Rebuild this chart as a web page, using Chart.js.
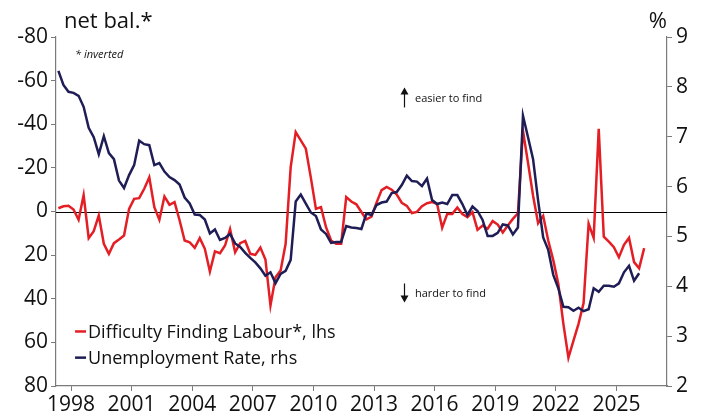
<!DOCTYPE html>
<html><head><meta charset="utf-8">
<script src="https://cdn.jsdelivr.net/npm/chart.js@4.4.0/dist/chart.umd.min.js"></script>
<style>html,body{margin:0;padding:0;background:#fff;}#wrap{width:704px;height:416px;}</style>
</head><body><div id="wrap"><canvas id="c" width="704" height="416"></canvas></div>
<script>
// ---- data (quarterly, first observation 1997 Q2) ----
const firstYear = 1997;
const firstQuarter = 2;
const difficultyFindingLabour = [ // net balance, plotted inverted (lhs)
  -1.5,-2.4,-2.6,-0.9,3.8,-7.5,12.2,9.0,1.8,14.8,19.4,14.5,12.8,11.0,-1.2,-5.8,-6.1,-10.4,-15.7,-2.0,
  3.8,-6.9,-3.1,-4.3,4.0,13.3,14.1,16.7,12.2,17.1,27.5,18.3,19.1,15.6,8.1,18.7,14.5,13.5,19.4,19.9,
  16.5,22.0,43.1,30.1,27.1,14.8,-20.3,-36.4,-32.6,-28.8,-15.4,-1.2,-2.0,7.2,13.3,14.8,14.8,-6.6,-4.6,-3.3,
  0.2,3.6,2.4,-4.0,-9.8,-11.3,-10.0,-7.8,-4.0,-2.6,0.7,0.2,-2.4,-3.8,-4.3,-3.5,7.4,1.1,1.1,-1.8,
  1.2,2.6,0.3,8.4,6.4,7.9,4.4,6.0,9.6,6.4,3.4,0.8,-37.0,-22.3,-7.2,5.4,2.0,13.3,22.3,33.2,
  51.5,67.0,59.2,51.5,42.0,5.6,12.1,-37.9,11.5,13.8,16.4,21.0,15.3,12.1,23.2,26.0,16.8
];
const unemploymentRate = [ // % (rhs)
  8.32,8.04,7.90,7.88,7.82,7.60,7.18,6.99,6.65,7.01,6.67,6.55,6.12,5.97,6.23,6.43,6.92,6.85,6.83,6.43,
  6.47,6.30,6.19,6.13,6.04,5.78,5.66,5.44,5.43,5.34,5.06,5.14,4.93,4.97,5.05,4.86,4.79,4.67,4.57,4.48,
  4.36,4.21,4.28,4.06,4.25,4.31,4.53,5.70,5.84,5.66,5.48,5.41,5.14,5.05,4.87,4.89,4.89,5.21,5.18,5.17,
  5.15,5.46,5.43,5.63,5.68,5.70,5.87,5.89,6.03,6.22,6.11,6.10,6.01,6.16,5.73,5.65,5.68,5.65,5.83,5.83,
  5.65,5.43,5.60,5.51,5.33,5.01,5.01,5.07,5.24,5.22,5.04,5.18,7.42,6.99,6.55,5.72,4.98,4.73,4.23,3.96,
  3.59,3.58,3.51,3.57,3.50,3.54,3.96,3.89,4.01,4.01,3.99,4.06,4.28,4.41,4.11,4.26
];
const yearTicks = [1998,2001,2004,2007,2010,2013,2016,2019,2022,2025];
const lhsTicks = [-80,-60,-40,-20,0,20,40,60,80];
const rhsTicks = [2,3,4,5,6,7,8,9];
const seriesNames = ['Difficulty Finding Labour*, lhs','Unemployment Rate, rhs'];
const seriesColors = ['#e31e24','#1f1d55'];

// quarter -> decimal year (mid-quarter)
function qTime(i){ const q = firstQuarter - 1 + i; return firstYear + Math.floor(q/4) + (q%4)*0.25 + 0.125; }
const redPts = difficultyFindingLabour.map((v,i)=>({x:qTime(i), y:v}));
const bluePts = unemploymentRate.map((v,i)=>({x:qTime(i), y:v}));

const FONT = "'Open Sans', sans-serif";
const AXIS = '#7a7a7a';

const overlay = {
  id:'overlay',
  beforeDatasetsDraw(chart){
    const {ctx, chartArea:a, scales} = chart;
    const y0 = scales.yL.getPixelForValue(0);
    ctx.save();
    ctx.strokeStyle = '#000'; ctx.lineWidth = 1.2;
    ctx.beginPath(); ctx.moveTo(a.left, Math.round(y0)+0.5); ctx.lineTo(a.right, Math.round(y0)+0.5); ctx.stroke();
    ctx.restore();
  },
  afterDraw(chart){
    const {ctx, chartArea:a, scales} = chart;
    const X = scales.x, L = scales.yL;
    ctx.save();
    ctx.fillStyle = '#111';
    ctx.textBaseline = 'alphabetic';
    ctx.font = `22px ${FONT}`;
    ctx.textAlign = 'left';
    ctx.fillText('net bal.*', 64, 28);
    ctx.textAlign = 'right';
    ctx.fillText('%', 667, 28);
    // note
    ctx.textAlign = 'left'; ctx.textBaseline = 'middle';
    ctx.font = `italic 11px ${FONT}`;
    ctx.fillText('* inverted', X.getPixelForValue(1998.2), L.getPixelForValue(-71.6));
    // arrows
    ctx.font = `11px ${FONT}`;
    const ax = Math.round(X.getPixelForValue(2014.49))+0.5;
    function arrow(yFrom, yTo){
      const dir = Math.sign(yTo - yFrom);
      ctx.strokeStyle = '#111'; ctx.lineWidth = 1.2;
      ctx.beginPath(); ctx.moveTo(ax, yFrom); ctx.lineTo(ax, yTo - dir*6); ctx.stroke();
      ctx.beginPath(); ctx.moveTo(ax, yTo); ctx.lineTo(ax-4, yTo - dir*7); ctx.lineTo(ax+4, yTo - dir*7); ctx.closePath(); ctx.fill();
    }
    arrow(L.getPixelForValue(-47.7), L.getPixelForValue(-56.9));
    ctx.fillText('easier to find', ax + 10.5, L.getPixelForValue(-51.8));
    arrow(L.getPixelForValue(33), L.getPixelForValue(41.7));
    ctx.fillText('harder to find', ax + 10.5, L.getPixelForValue(37.6));
    // legend
    ctx.font = `18px ${FONT}`;
    const lx = X.getPixelForValue(1998.2);
    [55, 67].forEach((lv, k)=>{
      const ly = L.getPixelForValue(lv);
      ctx.strokeStyle = seriesColors[k]; ctx.lineWidth = 2.5;
      ctx.beginPath(); ctx.moveTo(lx, ly); ctx.lineTo(lx+11, ly); ctx.stroke();
      ctx.fillStyle = '#111';
      ctx.fillText(seriesNames[k], lx + 13, ly + 1);
    });
    ctx.restore();
  }
};

new Chart(document.getElementById('c'), {
  type:'line',
  data:{ datasets:[
    {label:seriesNames[0], data:redPts, yAxisID:'yL', borderColor:seriesColors[0], borderWidth:2.5, pointRadius:0, tension:0, order:1},
    {label:seriesNames[1], data:bluePts, yAxisID:'yR', borderColor:seriesColors[1], borderWidth:2.5, pointRadius:0, tension:0, order:0}
  ]},
  options:{
    responsive:false, animation:false, devicePixelRatio:1,
    layout:{padding:{top:37,left:0,right:0,bottom:0}},
    plugins:{legend:{display:false}, tooltip:{enabled:false}},
    scales:{
      x:{type:'linear', min:1997.257, max:2027.505,
        afterBuildTicks:s=>{s.ticks = yearTicks.map(v=>({value:v}));},
        afterFit:s=>{s.height = 30;},
        grid:{display:true, drawOnChartArea:false, drawTicks:true, tickLength:5, color:AXIS},
        border:{display:true, color:AXIS, width:1.2},
        ticks:{autoSkip:false, maxRotation:0, padding:1, color:'#111', font:{family:FONT, size:21}, callback:v=>String(v)}},
      yL:{position:'left', reverse:true, min:-80, max:80,
        afterBuildTicks:s=>{s.ticks = lhsTicks.map(v=>({value:v}));},
        afterFit:s=>{s.width = 56;},
        grid:{display:true, drawOnChartArea:false, drawTicks:true, tickLength:5, color:AXIS},
        border:{display:true, color:AXIS, width:1.2},
        ticks:{padding:3, color:'#111', font:{family:FONT, size:21}, callback:v=>String(v)}},
      yR:{position:'right', min:2, max:9,
        afterBuildTicks:s=>{s.ticks = rhsTicks.map(v=>({value:v}));},
        afterFit:s=>{s.width = 37;},
        grid:{display:true, drawOnChartArea:false, drawTicks:true, tickLength:5, color:AXIS},
        border:{display:true, color:AXIS, width:1.2},
        ticks:{padding:4, color:'#111', font:{family:FONT, size:21}, callback:v=>String(v)}}
    }
  },
  plugins:[overlay]
});
</script></body></html>
